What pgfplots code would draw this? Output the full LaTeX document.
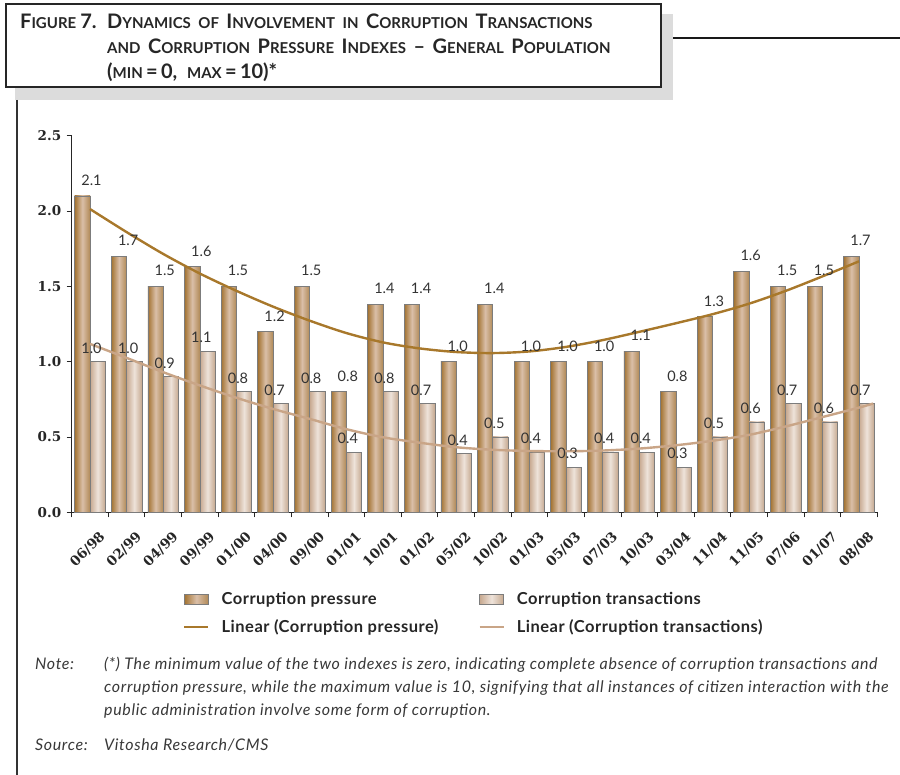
\documentclass[border=0pt]{standalone}
\usepackage{fontspec}
\setmainfont{Lato}
\newfontfamily\serifb{DejaVu Serif}
\newfontfamily\notefam{Lato}[LetterSpace=4]
\newfontfamily\legfam{Lato}[LetterSpace=3]
\usepackage{pgfplots}
\usepackage{pgfplotstable}
\pgfplotsset{compat=1.18}

\definecolor{pL}{HTML}{A37332}
\definecolor{pM}{HTML}{DABFA8}
\definecolor{pR}{HTML}{B08956}
\definecolor{tL}{HTML}{C7A88F}
\definecolor{tM}{HTML}{EEE3DA}
\definecolor{tR}{HTML}{C5A88F}
\definecolor{pLine}{HTML}{A8782B}
\definecolor{tLine}{HTML}{C9A587}
\definecolor{barEdge}{HTML}{7C7C7C}
\definecolor{txt}{HTML}{333333}
\definecolor{shadowc}{HTML}{DCDCDC}

\pgfplotstableread{
x p t
0 2.10 1.00
1 1.70 1.00
2 1.50 0.90
3 1.63 1.07
4 1.50 0.80
5 1.20 0.72
6 1.50 0.80
7 0.80 0.40
8 1.38 0.80
9 1.38 0.72
10 1.00 0.39
11 1.38 0.50
12 1.00 0.40
13 1.00 0.30
14 1.00 0.40
15 1.07 0.40
16 0.80 0.30
17 1.30 0.50
18 1.60 0.60
19 1.50 0.72
20 1.50 0.60
21 1.70 0.72
}\bars

\pgfplotstableread{
x y
0 2.013
1 1.860
2 1.715
3 1.585
4 1.470
5 1.365
6 1.272
7 1.190
8 1.128
9 1.088
10 1.064
11 1.057
12 1.068
13 1.098
14 1.143
15 1.198
16 1.255
17 1.315
18 1.385
19 1.470
20 1.566
21 1.666
}\ptrend

\pgfplotstableread{
x y
0 1.118
1 1.025
2 0.930
3 0.842
4 0.760
5 0.686
6 0.620
7 0.552
8 0.498
9 0.462
10 0.432
11 0.415
12 0.407
13 0.405
14 0.410
15 0.423
16 0.445
17 0.475
18 0.514
19 0.570
20 0.632
21 0.695
21.39 0.722
}\ttrend

\newcommand\tbig{\fontsize{20}{22}\selectfont}
\newcommand\tsml{\fontsize{15}{22}\selectfont}
\newcommand\SC[2]{{\tbig#1}{\tsml#2}}
\newcommand\W{\hspace{7.5pt}}
\newcommand\labfont{\fontsize{14.5}{16}\selectfont}
\newcommand\notefont{\notefam\itshape\fontsize{16}{18}\selectfont}

\begin{document}
\begin{tikzpicture}
\path[use as bounding box] (0pt,0pt) rectangle (900pt,-775pt);
% title box
\fill[shadowc] (15pt,-14pt) rectangle (673pt,-100pt);
\filldraw[fill=white, draw=black!85, line width=1.6pt] (6pt,-4pt) rectangle (661pt,-87pt);
\draw[black!90, line width=1.8pt] (673pt,-37.7pt) -- (900pt,-37.7pt);
\draw[black!80, line width=1.6pt] (17pt,-100pt) -- (17pt,-775pt);
\begin{scope}[every node/.style={anchor=base west, inner sep=0pt, font=\bfseries, text=black!85}]
\node at (20pt,-29pt) {\SC{F}{IGURE}\hspace{4pt}{\tbig 7.}};
\node at (107pt,-29pt) {\SC{D}{YNAMICS}\W\SC{}{OF}\W\SC{I}{NVOLVEMENT}\W\SC{}{IN}\W\SC{C}{ORRUPTION}\W\SC{T}{RANSACTIONS}};
\node at (107pt,-54pt) {\SC{}{AND}\W\SC{C}{ORRUPTION}\W\SC{P}{RESSURE}\W\SC{I}{NDEXES}\W{\tbig --}\W\SC{G}{ENERAL}\W\SC{P}{OPULATION}};
\node at (107pt,-79pt) {{\tbig (}\SC{}{MIN}{\tbig\,=\,0,\ \ }\SC{}{MAX}{\tbig\,=\,10)*}};
\end{scope}
% notes
\begin{scope}[every node/.style={anchor=base west, inner sep=0pt, font=\notefont, text=black!78}]
\node at (35pt,-669pt) {Note:};
\node at (104pt,-669pt) {(*) The minimum value of the two indexes is zero, indicating complete absence of corruption transactions and};
\node at (104pt,-692pt) {corruption pressure, while the maximum value is 10, signifying that all instances of citizen interaction with the};
\node at (104pt,-715pt) {public administration involve some form of corruption.};
\node at (35pt,-750pt) {Source:};
\node at (104pt,-750pt) {Vitosha Research/CMS};
\end{scope}

\begin{axis}[
  at={(71.7pt,-512.3pt)}, anchor=south west,
  scale only axis, width=805.6pt, height=376.6pt,
  xmin=-0.5, xmax=21.5, ymin=0, ymax=2.5,
  clip=false,
  axis x line*=bottom, axis y line*=left,
  axis line style={-, black!85, line width=0.9pt},
  tick align=outside,
  major tick length=5pt, minor tick length=5pt,
  ytick={0,0.5,1,1.5,2,2.5},
  yticklabel={\pgfmathprintnumber[fixed,fixed zerofill,precision=1]{\tick}},
  /pgf/number format/assume math mode=true,
  yticklabel style={font=\serifb\bfseries\fontsize{13.5}{14}\selectfont, text=black!85, xshift=-2pt},
  ytick style={black!85, line width=0.9pt},
  xtick={0,...,21},
  xticklabels={06/98,02/99,04/99,09/99,01/00,04/00,09/00,01/01,10/01,01/02,05/02,10/02,01/03,05/03,07/03,10/03,03/04,11/04,11/05,07/06,01/07,08/08},
  xticklabel style={font=\serifb\bfseries\fontsize{13.5}{14}\selectfont, text=black!85, rotate=45, anchor=north east, inner sep=0pt, xshift=-3pt, yshift=-15pt},
  major x tick style={draw=none},
  minor xtick={-0.5,0.5,...,21.5},
  minor x tick style={black!85, line width=0.9pt},
  legend columns=2,
  legend cell align=left,
  legend style={at={(0.1382,-0.2063)}, anchor=north west, draw=none, fill=none,
    font=\legfam\bfseries\fontsize{16.5}{18}\selectfont, text=black!85, inner sep=0pt,
    /tikz/every odd column/.append style={column sep=10pt},
    /tikz/every even column/.append style={column sep=38pt}, row sep=10pt},
]
\pgfplotsinvokeforeach{0,...,21}{
  \addplot[ybar, bar width=15.3pt, bar shift=-7.65pt, draw=barEdge, line width=0.7pt,
    left color=pL, right color=pR, middle color=pM, forget plot,
    restrict x to domain=#1:#1, point meta=y,
    nodes near coords={\pgfmathprintnumber[fixed,fixed zerofill,precision=1]{\pgfplotspointmeta}},
    every node near coord/.append style={font=\labfont, text=txt, inner sep=0pt, anchor=south, yshift=10pt, xshift=1.5pt}]
    table[x=x,y=p]{\bars};
  \addplot[ybar, bar width=15.3pt, bar shift=7.65pt, draw=barEdge, line width=0.7pt,
    left color=tL, right color=tR, middle color=tM, forget plot,
    restrict x to domain=#1:#1, point meta=y,
    nodes near coords={\pgfmathprintnumber[fixed,fixed zerofill,precision=1]{\pgfplotspointmeta}},
    every node near coord/.append style={font=\labfont, text=txt, inner sep=0pt, anchor=south, yshift=8pt, xshift=1.5pt}]
    table[x=x,y=t]{\bars};
}
\addlegendimage{legend image code/.code={\path[draw=barEdge, line width=0.6pt, left color=pL, right color=pR, middle color=pM] (0pt,-5pt) rectangle (24pt,5pt);}}
\addlegendentry{Corruption pressure}
\addlegendimage{legend image code/.code={\path[draw=barEdge, line width=0.6pt, left color=tL, right color=tR, middle color=tM] (0pt,-5pt) rectangle (24pt,5pt);}}
\addlegendentry{Corruption transactions}
\addplot[pLine, line width=2.4pt, smooth, no markers,
  legend image code/.code={\draw[pLine, line width=2.4pt] (0pt,0pt) -- (24pt,0pt);}] table[x=x,y=y]{\ptrend};
\addlegendentry{Linear (Corruption pressure)}
\addplot[tLine, line width=2.4pt, smooth, no markers,
  legend image code/.code={\draw[tLine, line width=2.4pt] (0pt,0pt) -- (24pt,0pt);}] table[x=x,y=y]{\ttrend};
\addlegendentry{Linear (Corruption transactions)}
\end{axis}
\end{tikzpicture}
\end{document}
